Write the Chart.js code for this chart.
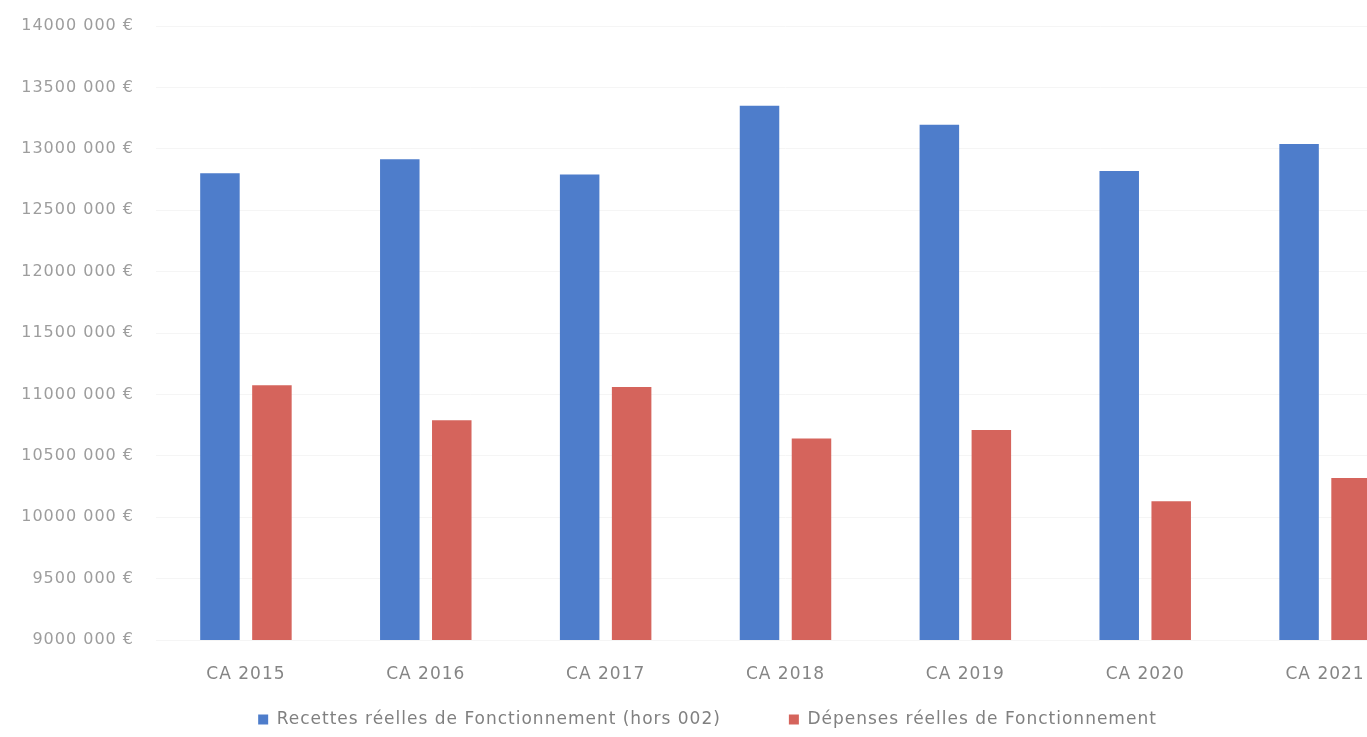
<!DOCTYPE html>
<html>
<head>
<meta charset="utf-8">
<script src="https://cdn.jsdelivr.net/npm/chart.js@4/dist/chart.umd.min.js"></script>
<style>
  html, body { margin: 0; padding: 0; background: #ffffff; overflow: hidden; width: 1367px; height: 737px; }
  #wrap { width: 1415px; height: 737px; }
</style>
</head>
<body>
<div id="wrap"><canvas id="c" width="1415" height="737"></canvas></div>
<script>
// ---- data ----
const categories = ['CA 2015', 'CA 2016', 'CA 2017', 'CA 2018', 'CA 2019', 'CA 2020', 'CA 2021'];
const recettes = [12800000, 12915000, 12790000, 13350000, 13195000, 12820000, 13040000];
const depenses = [11075000, 10790000, 11060000, 10640000, 10710000, 10130000, 10320000];
const seriesNames = ['Recettes réelles de Fonctionnement (hors 002)', 'Dépenses réelles de Fonctionnement'];
const yTickLabels = ['9000 000 €', '9500 000 €', '10000 000 €', '10500 000 €', '11000 000 €',
                     '11500 000 €', '12000 000 €', '12500 000 €', '13000 000 €', '13500 000 €', '14000 000 €'];

const LEGEND_H = 37;       // height reserved for the legend row in the layout
const LEGEND_TOP = 643;    // where the legend box starts once laid out

const spacing = {
  id: 'spacing',
  beforeUpdate(chart) { try { chart.ctx.letterSpacing = '1px'; } catch (e) {} },
  beforeLayout(chart) {
    try { chart.ctx.letterSpacing = '1px'; } catch (e) {}
    const lg = chart.legend;
    if (lg && !lg.__patched) {
      const orig = lg.fit;
      lg.fit = function () { orig.call(this); this.height = LEGEND_H; };
      lg.__patched = true;
    }
  },
  afterLayout(chart) {
    const lg = chart.legend;
    if (lg) { lg.top = LEGEND_TOP; lg.bottom = chart.height; lg.height = chart.height - LEGEND_TOP; }
  },
  beforeDraw(chart) { try { chart.ctx.letterSpacing = '1px'; } catch (e) {} }
};

new Chart(document.getElementById('c'), {
  type: 'bar',
  data: {
    labels: categories,
    datasets: [
      { label: seriesNames[0], data: recettes, backgroundColor: '#4e7dcb', categoryPercentage: 0.578, barPercentage: 0.76 },
      { label: seriesNames[1], data: depenses, backgroundColor: '#d5645c', categoryPercentage: 0.578, barPercentage: 0.76 }
    ]
  },
  options: {
    responsive: false,
    animation: false,
    layout: { padding: { top: 26, left: 0, right: 0, bottom: 0 } },
    plugins: {
      tooltip: { enabled: false },
      legend: {
        position: 'bottom',
        labels: {
          boxWidth: 10, boxHeight: 10, padding: 68,
          color: '#808080',
          font: { family: 'DejaVu Sans', size: 17 }
        }
      }
    },
    scales: {
      x: {
        grid: { display: false, drawTicks: false },
        border: { display: false },
        ticks: { color: '#858585', padding: 24, autoSkip: false, maxRotation: 0, font: { family: 'DejaVu Sans', size: 17 } },
        afterFit(scale) { scale.height = 60; }
      },
      y: {
        min: 9000000, max: 14000000,
        grid: { color: '#f5f5f5', drawTicks: false },
        border: { display: false },
        ticks: {
          stepSize: 500000, padding: 22, color: '#9d9d9d',
          font: { family: 'DejaVu Sans', size: 16 },
          callback: (v, i) => yTickLabels[i]
        },
        afterFit(scale) { scale.width = 156; scale.paddingTop = 10; scale.paddingBottom = 10; }
      }
    }
  },
  plugins: [spacing]
});
</script>
</body>
</html>
